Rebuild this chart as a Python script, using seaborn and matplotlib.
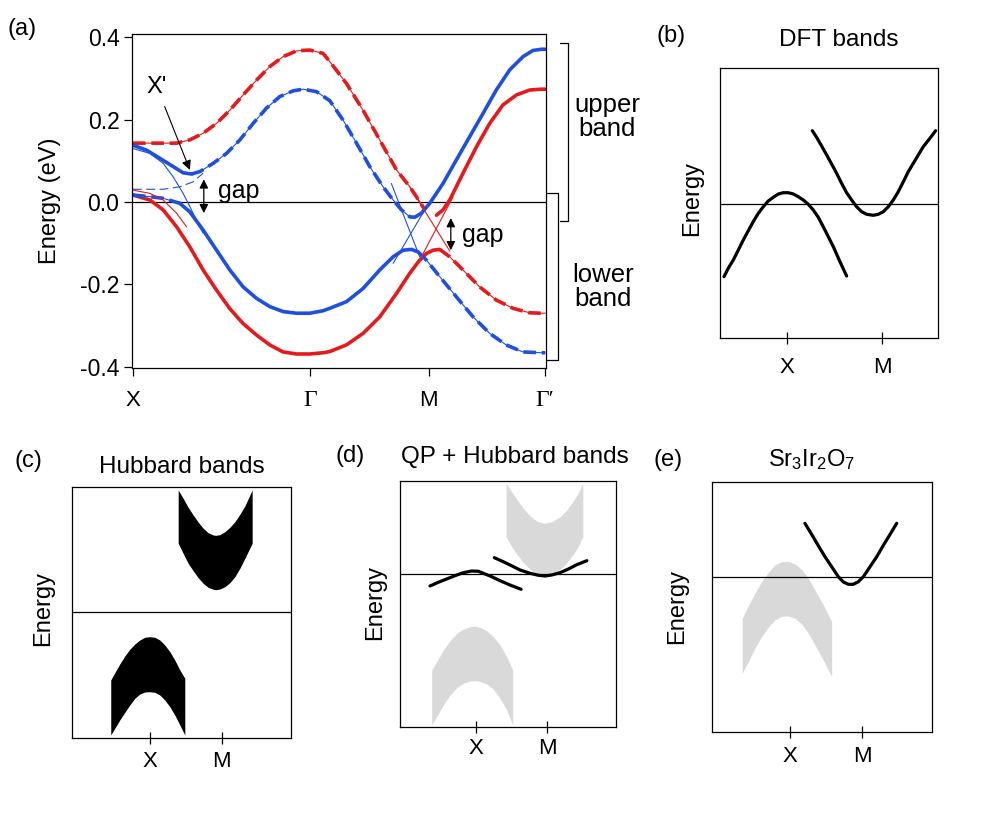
import matplotlib
matplotlib.use("Agg")
import matplotlib.pyplot as plt
import matplotlib.transforms as mtransforms
import seaborn as sns

# ---------------- data ----------------
# (a) band dispersion, k in path units (X=0, Gamma=1, M=1.672, Gamma'=2.33), E in eV
A_TICK_K = [0.0, 1.0, 1.672, 2.33]
A_TICK_LABELS = ["X", "Γ", "M", "Γ′"]
A_YTICKS = [-0.4, -0.2, 0.0, 0.2, 0.4]
A_YTICK_LABELS = ["-0.4", "-0.2", "0.0", "0.2", "0.4"]

red_up_dash_k = [0.0, 0.1, 0.247, 0.322, 0.397, 0.473, 0.548, 0.623, 0.699, 0.774, 0.849, 0.925, 1.0, 1.075, 1.113, 1.207, 1.301, 1.395, 1.49, 1.565, 1.621, 1.65]
red_up_dash_e = [0.143, 0.143, 0.143, 0.151, 0.167, 0.191, 0.223, 0.26, 0.296, 0.329, 0.353, 0.367, 0.369, 0.361, 0.341, 0.288, 0.223, 0.151, 0.078, 0.037, 0.001, -0.019]
red_up_solid_k = [1.716, 1.753, 1.791, 1.866, 1.942, 2.017, 2.092, 2.168, 2.243, 2.309, 2.33]
red_up_solid_e = [-0.032, -0.019, 0.005, 0.07, 0.134, 0.191, 0.236, 0.26, 0.272, 0.274, 0.274]

red_lo_solid_k = [0.0, 0.096, 0.171, 0.247, 0.322, 0.397, 0.473, 0.548, 0.623, 0.699, 0.774, 0.849, 0.925, 1.0, 1.075, 1.113, 1.207, 1.301, 1.395, 1.49, 1.565, 1.621, 1.659, 1.697, 1.734]
red_lo_solid_e = [0.017, 0.005, -0.019, -0.06, -0.109, -0.165, -0.214, -0.259, -0.295, -0.323, -0.347, -0.364, -0.369, -0.369, -0.366, -0.363, -0.347, -0.319, -0.279, -0.222, -0.173, -0.141, -0.125, -0.117, -0.115]
red_lo_dash_k = [1.734, 1.791, 1.866, 1.96, 2.054, 2.148, 2.243, 2.309, 2.33]
red_lo_dash_e = [-0.115, -0.133, -0.165, -0.206, -0.238, -0.258, -0.269, -0.27, -0.27]

blue_up_solid_k = [0.0, 0.077, 0.153, 0.228, 0.284, 0.332]
blue_up_solid_e = [0.138, 0.126, 0.106, 0.086, 0.071, 0.068]
blue_up_dash_k = [0.332, 0.379, 0.454, 0.529, 0.605, 0.68, 0.755, 0.83, 0.906, 0.962, 1.038, 1.113, 1.188, 1.264, 1.339, 1.414, 1.471, 1.518, 1.565, 1.593]
blue_up_dash_e = [0.068, 0.074, 0.094, 0.118, 0.151, 0.191, 0.228, 0.256, 0.27, 0.274, 0.268, 0.246, 0.199, 0.143, 0.086, 0.037, 0.005, -0.019, -0.036, -0.037]
blue_up_solid2_k = [1.593, 1.631, 1.678, 1.753, 1.828, 1.904, 1.979, 2.054, 2.13, 2.205, 2.261, 2.309, 2.33]
blue_up_solid2_e = [-0.037, -0.027, -0.003, 0.045, 0.102, 0.159, 0.215, 0.272, 0.321, 0.353, 0.368, 0.371, 0.371]

blue_lo_dash_k = [0.0, 0.096, 0.171, 0.265]
blue_lo_dash_e = [0.017, 0.013, 0.009, -0.003]
blue_lo_solid_k = [0.265, 0.322, 0.397, 0.473, 0.548, 0.623, 0.699, 0.774, 0.849, 0.925, 1.0, 1.075, 1.113, 1.207, 1.301, 1.395, 1.471, 1.527, 1.574, 1.612]
blue_lo_solid_e = [-0.003, -0.024, -0.068, -0.117, -0.165, -0.206, -0.234, -0.254, -0.266, -0.27, -0.27, -0.264, -0.258, -0.242, -0.21, -0.165, -0.133, -0.117, -0.115, -0.121]
blue_lo_dash2_k = [1.612, 1.659, 1.734, 1.828, 1.923, 2.017, 2.11, 2.205, 2.309, 2.33]
blue_lo_dash2_e = [-0.121, -0.141, -0.181, -0.23, -0.279, -0.319, -0.347, -0.364, -0.366, -0.366]

# thin (unhybridised) bands near the crossings
thin_blue_x_k = [0.0, 0.096, 0.171, 0.228, 0.284, 0.322, 0.359, 0.397]
thin_blue_x_e = [0.13, 0.118, 0.094, 0.061, 0.021, -0.011, -0.044, -0.076]
thin_blue_x2_k = [0.0, 0.171, 0.265, 0.34, 0.397]
thin_blue_x2_e = [0.031, 0.031, 0.037, 0.049, 0.07]
thin_red_x_k = [0.0, 0.096, 0.171, 0.247, 0.303]
thin_red_x_e = [0.029, 0.021, 0.005, -0.027, -0.06]
thin_blue_m1_k = [1.461, 1.621]
thin_blue_m1_e = [0.045, -0.133]
thin_blue_m2_k = [1.471, 1.65]
thin_blue_m2_e = [-0.149, -0.019]
thin_red_m1_k = [1.565, 1.791]
thin_red_m1_e = [0.037, -0.119]
thin_red_m2_k = [1.621, 1.81]
thin_red_m2_e = [-0.141, 0.013]

# (b) DFT bands (arbitrary units, X=0, M=1)
SMALL_TICK_K = [0.0, 1.0]
SMALL_TICK_LABELS = ["X", "M"]
b_hole_k = [-0.663, -0.618, -0.565, -0.512, -0.46, -0.407, -0.355, -0.302, -0.249, -0.197, -0.144, -0.091, -0.039, 0.014, 0.067, 0.119, 0.172, 0.225, 0.277, 0.33, 0.382, 0.435, 0.488, 0.558, 0.628]
b_hole_e = [-0.727, -0.643, -0.56, -0.46, -0.36, -0.267, -0.177, -0.093, -0.027, 0.03, 0.067, 0.1, 0.113, 0.113, 0.1, 0.073, 0.04, -0.003, -0.06, -0.133, -0.227, -0.327, -0.427, -0.577, -0.72]
b_elec_k = [0.267, 0.312, 0.365, 0.418, 0.47, 0.523, 0.575, 0.628, 0.681, 0.733, 0.786, 0.839, 0.909, 0.961, 1.014, 1.067, 1.119, 1.172, 1.225, 1.277, 1.33, 1.382, 1.435, 1.505, 1.565]
b_elec_e = [0.733, 0.667, 0.58, 0.49, 0.4, 0.307, 0.207, 0.113, 0.04, -0.027, -0.077, -0.103, -0.113, -0.103, -0.077, -0.027, 0.04, 0.123, 0.223, 0.323, 0.407, 0.49, 0.573, 0.657, 0.733]

# (c) Hubbard bands
c_lo_k = [-0.542, -0.486, -0.417, -0.347, -0.278, -0.208, -0.139, -0.069, -0.005, 0.069, 0.139, 0.208, 0.278, 0.347, 0.417, 0.486]
c_lo_top = [-0.68, -0.607, -0.52, -0.44, -0.373, -0.32, -0.28, -0.253, -0.247, -0.253, -0.28, -0.33, -0.397, -0.48, -0.58, -0.663]
c_lo_bot = [-1.23, -1.163, -1.08, -1.003, -0.93, -0.863, -0.82, -0.8, -0.797, -0.803, -0.83, -0.88, -0.947, -1.03, -1.13, -1.23]
c_up_k = [0.394, 0.463, 0.532, 0.602, 0.671, 0.741, 0.81, 0.88, 0.917, 0.972, 1.042, 1.111, 1.181, 1.25, 1.319, 1.421]
c_up_top = [1.22, 1.137, 1.047, 0.97, 0.9, 0.837, 0.793, 0.77, 0.767, 0.773, 0.803, 0.847, 0.903, 0.977, 1.06, 1.22]
c_up_bot = [0.687, 0.587, 0.487, 0.413, 0.343, 0.287, 0.247, 0.227, 0.223, 0.23, 0.253, 0.293, 0.353, 0.437, 0.537, 0.687]

# (d) QP + Hubbard bands
d_lo_k = [-0.624, -0.554, -0.46, -0.366, -0.272, -0.178, -0.085, -0.014, 0.056, 0.15, 0.244, 0.338, 0.432, 0.516]
d_lo_top = [-0.96, -0.877, -0.76, -0.667, -0.593, -0.55, -0.527, -0.523, -0.533, -0.567, -0.627, -0.71, -0.827, -0.96]
d_lo_bot = [-1.51, -1.427, -1.31, -1.21, -1.137, -1.093, -1.07, -1.067, -1.073, -1.1, -1.153, -1.243, -1.36, -1.51]
d_up_k = [0.423, 0.502, 0.573, 0.667, 0.761, 0.854, 0.962, 1.066, 1.183, 1.277, 1.371, 1.441, 1.503]
d_up_top = [0.907, 0.823, 0.747, 0.657, 0.58, 0.53, 0.507, 0.523, 0.573, 0.64, 0.733, 0.813, 0.907]
d_up_bot = [0.373, 0.273, 0.2, 0.113, 0.047, 0.0, -0.027, -0.01, 0.047, 0.113, 0.2, 0.28, 0.373]
d_qp1_k = [-0.648, -0.531, -0.413, -0.296, -0.178, -0.061, 0.033, 0.103, 0.221, 0.338, 0.479, 0.634]
d_qp1_e = [-0.12, -0.083, -0.05, -0.017, 0.013, 0.03, 0.027, 0.007, -0.027, -0.067, -0.11, -0.153]
d_qp2_k = [0.258, 0.362, 0.479, 0.62, 0.761, 0.878, 0.972, 1.066, 1.183, 1.3, 1.418, 1.559]
d_qp2_e = [0.163, 0.13, 0.09, 0.04, 0.007, -0.013, -0.02, -0.01, 0.013, 0.05, 0.093, 0.133]

# (e) Sr3Ir2O7
e_band_k = [-0.662, -0.579, -0.486, -0.394, -0.301, -0.208, -0.116, -0.023, 0.069, 0.162, 0.255, 0.347, 0.463, 0.579]
e_band_top = [-0.413, -0.29, -0.163, -0.047, 0.047, 0.12, 0.153, 0.157, 0.13, 0.077, -0.013, -0.13, -0.28, -0.447]
e_band_bot = [-0.963, -0.847, -0.713, -0.597, -0.503, -0.43, -0.393, -0.39, -0.413, -0.47, -0.563, -0.68, -0.83, -0.997]
e_qp_k = [0.208, 0.301, 0.394, 0.486, 0.579, 0.671, 0.741, 0.81, 0.88, 0.949, 1.019, 1.111, 1.204, 1.296, 1.389, 1.481]
e_qp_e = [0.537, 0.427, 0.313, 0.203, 0.103, 0.003, -0.05, -0.073, -0.073, -0.047, 0.003, 0.103, 0.203, 0.317, 0.427, 0.537]

RED = "#e41a1c"
BLUE = "#1f4fe0"
GREY = "#d9d9d9"

# ---------------- style ----------------
sns.set_style("ticks", {"axes.edgecolor": "black", "xtick.color": "black",
                        "ytick.color": "black", "text.color": "black",
                        "axes.labelcolor": "black"})
plt.rcParams['font.family'] = ['Liberation Sans', 'DejaVu Sans']
plt.rcParams['text.color'] = 'black'
plt.rcParams['axes.unicode_minus'] = False
plt.rcParams['mathtext.fontset'] = 'custom'
plt.rcParams['mathtext.rm'] = 'Liberation Sans'
plt.rcParams['mathtext.it'] = 'Liberation Sans:italic'
plt.rcParams['axes.linewidth'] = 0.9
plt.rcParams['lines.solid_capstyle'] = 'round'
plt.rcParams['lines.solid_joinstyle'] = 'round'

W, H = 994, 815
fig = plt.figure(figsize=(W / 100, H / 100), dpi=100)


def box(l, t, r, b):
    return [l / W, 1 - b / H, (r - l) / W, (b - t) / H]


def ftext(x, y, s, **kw):
    kw.setdefault("ha", "center")
    kw.setdefault("va", "center")
    fig.text(x / W, 1 - y / H, s, color="black", **kw)


def line(ax, k, e, color, lw, ls="-"):
    sns.lineplot(x=k, y=e, ax=ax, color=color, lw=lw, linestyle=ls,
                 sort=False, estimator=None)


def band(ax, k, e, color, dashed):
    line(ax, k, e, color, 0.8)
    line(ax, k, e, color, 2.6, (0, (3.5, 1.6)) if dashed else "-")


# ---------------- (a) ----------------
axa = fig.add_axes(box(132, 34, 546, 368))
axa.axhline(0, color="black", lw=0.9)

band(axa, red_up_dash_k, red_up_dash_e, RED, True)
band(axa, red_up_solid_k, red_up_solid_e, RED, False)
band(axa, red_lo_solid_k, red_lo_solid_e, RED, False)
band(axa, red_lo_dash_k, red_lo_dash_e, RED, True)
band(axa, blue_up_solid_k, blue_up_solid_e, BLUE, False)
band(axa, blue_up_dash_k, blue_up_dash_e, BLUE, True)
band(axa, blue_up_solid2_k, blue_up_solid2_e, BLUE, False)
band(axa, blue_lo_dash_k, blue_lo_dash_e, BLUE, True)
band(axa, blue_lo_solid_k, blue_lo_solid_e, BLUE, False)
band(axa, blue_lo_dash2_k, blue_lo_dash2_e, BLUE, True)

line(axa, thin_blue_x_k, thin_blue_x_e, BLUE, 0.8)
line(axa, thin_blue_x2_k, thin_blue_x2_e, BLUE, 0.8, (0, (8, 4)))
line(axa, thin_red_x_k, thin_red_x_e, RED, 0.8)
line(axa, thin_blue_m1_k, thin_blue_m1_e, BLUE, 0.8)
line(axa, thin_blue_m2_k, thin_blue_m2_e, BLUE, 0.8)
line(axa, thin_red_m1_k, thin_red_m1_e, RED, 0.8)
line(axa, thin_red_m2_k, thin_red_m2_e, RED, 0.8)

axa.set_xlim(-0.005, 2.335)
axa.set_ylim(-0.403, 0.408)
axa.set_xticks(A_TICK_K)
axa.set_xticklabels(A_TICK_LABELS)
axa.set_yticks(A_YTICKS)
axa.set_yticklabels(A_YTICK_LABELS)
axa.tick_params(axis="both", direction="out", length=6, width=0.9,
                labelcolor="black")
axa.tick_params(axis="x", pad=10, labelsize=16)
axa.tick_params(axis="y", pad=3, labelsize=16.5)
for lbl in axa.get_xticklabels():
    if "Γ" in lbl.get_text():
        lbl.set_fontfamily(["Liberation Serif", "DejaVu Serif"])
        lbl.set_fontsize(17)

# annotations
axa.annotate("X'", xy=(0.322, 0.078), xytext=(0.136, 0.279), fontsize=17,
             ha="center", va="center", color="black",
             arrowprops=dict(arrowstyle="-|>", color="black", lw=0.8,
                             mutation_scale=14, shrinkA=4, shrinkB=0))
axa.annotate("", xy=(0.401, -0.027), xytext=(0.401, 0.055),
             arrowprops=dict(arrowstyle="<|-|>", color="black", lw=0.9,
                             mutation_scale=13, shrinkA=0, shrinkB=0))
axa.text(0.48, 0.0097, "gap", fontsize=18, ha="left", va="baseline", color="black")
axa.annotate("", xy=(1.797, -0.117), xytext=(1.797, -0.039),
             arrowprops=dict(arrowstyle="<|-|>", color="black", lw=0.9,
                             mutation_scale=13, shrinkA=0, shrinkB=0))
axa.text(1.859, -0.097, "gap", fontsize=18, ha="left", va="baseline", color="black")

# band brackets
trans = mtransforms.blended_transform_factory(axa.transAxes, axa.transData)
axa.plot([1.034, 1.053, 1.053, 1.034], [0.386, 0.386, -0.046, -0.046],
         color="black", lw=0.9, transform=trans, clip_on=False)
axa.plot([1.002, 1.029, 1.029, 1.002], [0.022, 0.022, -0.384, -0.384],
         color="black", lw=0.9, transform=trans, clip_on=False)
axa.text(1.147, 0.206, "upper\nband", fontsize=18.5, ha="center", va="center",
         linespacing=1.0, transform=trans, color="black")
axa.text(1.138, -0.206, "lower\nband", fontsize=18.5, ha="center", va="center",
         linespacing=1.0, transform=trans, color="black")

ftext(22, 29, "(a)", fontsize=17)
ftext(50, 201, "Energy (eV)", fontsize=17, rotation=90)


# ---------------- small panels ----------------
def small_axes(rect, xlim, ylim, pad):
    ax = fig.add_axes(rect)
    ax.axhline(0, color="black", lw=0.9)
    ax.set_xlim(*xlim)
    ax.set_ylim(*ylim)
    ax.set_xticks(SMALL_TICK_K)
    ax.set_xticklabels(SMALL_TICK_LABELS)
    ax.set_yticks([])
    ax.tick_params(axis="x", direction="inout", length=8, width=0.9,
                   labelsize=16, pad=pad, labelcolor="black")
    return ax


# (b)
axb = small_axes(box(720, 68, 938, 338), (-0.705, 1.59), (-1.34, 1.36), 10)
line(axb, b_hole_k, b_hole_e, "black", 2.3)
line(axb, b_elec_k, b_elec_e, "black", 2.3)
ftext(671, 36, "(b)", fontsize=17)
ftext(839, 40, "DFT bands", fontsize=17.5)
ftext(692, 199, "Energy", fontsize=17, rotation=90)

# (c)
axc = small_axes(box(72, 487, 291, 738), (-1.08, 1.96), (-1.26, 1.25), 5.5)
axc.fill_between(c_lo_k, c_lo_bot, c_lo_top, color="black", lw=0)
axc.fill_between(c_up_k, c_up_bot, c_up_top, color="black", lw=0)
ftext(28, 461, "(c)", fontsize=17)
ftext(182, 467, "Hubbard bands", fontsize=17.5)
ftext(43, 608, "Energy", fontsize=17, rotation=90)

# (d)
axd = small_axes(box(400, 481, 616, 727), (-1.07, 1.97), (-1.53, 0.93), 4)
axd.fill_between(d_lo_k, d_lo_bot, d_lo_top, color=GREY, lw=0)
axd.fill_between(d_up_k, d_up_bot, d_up_top, color=GREY, lw=0)
line(axd, d_qp1_k, d_qp1_e, "black", 2.3)
line(axd, d_qp2_k, d_qp2_e, "black", 2.3)
ftext(350, 456, "(d)", fontsize=17)
ftext(515, 457, "QP + Hubbard bands", fontsize=17.5)
ftext(375, 602, "Energy", fontsize=17, rotation=90)

# (e)
axe = small_axes(box(712, 482, 932, 732), (-1.08, 1.97), (-1.55, 0.95), 6)
axe.fill_between(e_band_k, e_band_bot, e_band_top, color=GREY, lw=0)
line(axe, e_qp_k, e_qp_e, "black", 2.3)
ftext(668, 460, "(e)", fontsize=17)
ftext(812, 460, r"Sr$_3$Ir$_2$O$_7$", fontsize=17)
ftext(677, 607, "Energy", fontsize=17, rotation=90)

for ax in (axa, axb, axc, axd, axe):
    for side in ("top", "right", "left", "bottom"):
        ax.spines[side].set_visible(True)
    ax.set_xlabel("")
    ax.set_ylabel("")

fig.savefig("out.png", dpi=100)
